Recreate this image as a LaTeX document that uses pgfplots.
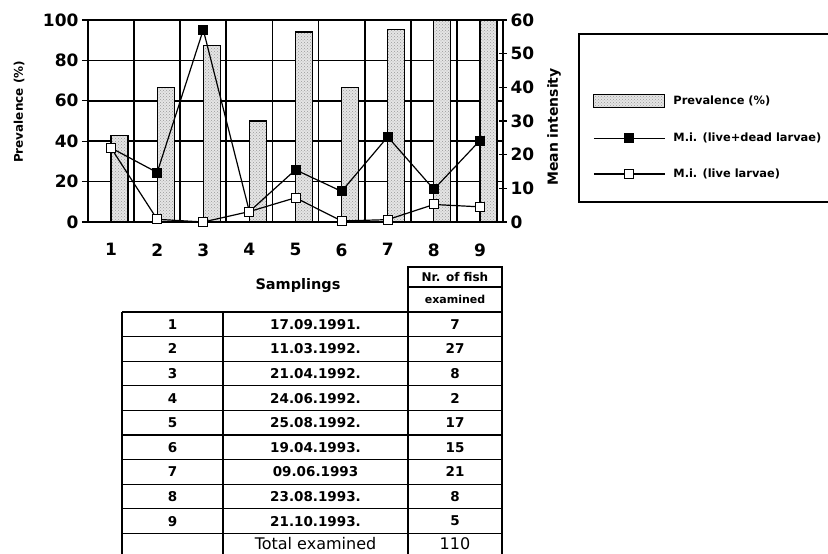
\documentclass[border=0pt]{standalone}
\usepackage{fontspec}
\setmainfont{DejaVu Sans}
\usepackage{pgfplots}
\usepackage{pgfplotstable}
\pgfplotsset{compat=1.18}
\usetikzlibrary{patterns}

% prevalence (%) and mean intensity per sampling
\pgfplotstableread{
x prev mitot milive
1 42.9 22.0 22.0
2 66.7 14.7 0.8
3 87.5 57.1 0.0
4 50.0 3.1 3.1
5 94.1 15.5 7.2
6 66.7 9.1 0.3
7 95.2 25.3 0.7
8 100 9.7 5.2
9 100 24.2 4.5
}\fishdata

\pgfplotsset{
  chartbase/.style={
    scale only axis, width=415pt, height=202pt,
    xmin=0.5, xmax=9.5, ymin=0,
    axis line style={line width=1.6pt},
    every tick/.style={line width=1.2pt, black},
    /pgf/number format/assume math mode=true,
    tick label style={font=\fontsize{17}{17}\selectfont\bfseries},
  },
  stipple/.style={fill=black!10, postaction={pattern=crosshatch dots, pattern color=black!40}},
  barlegend/.style={legend image code/.code={\draw[##1] (0pt,-6.5pt) rectangle (71pt,6.5pt);}},
  linelegend/.style={legend image code/.code={\draw[mark repeat=2,mark phase=2,##1] plot coordinates {(0pt,0pt) (35.5pt,0pt) (71pt,0pt)};}},
}

\begin{document}
\begin{tikzpicture}
\useasboundingbox (0,0) rectangle (828pt,554pt);

% prevalence bars, left axis
\begin{axis}[chartbase, at={(88pt,332pt)}, anchor=south west,
  ymax=100, ytick={0,20,...,100},
  xtick={1,...,9}, xtick pos=bottom, ytick pos=left,
  xtick style={draw=none},
  xticklabel style={yshift=-18pt},
  minor xtick={1.5,2.5,...,8.5}, xminorgrids,
  minor x grid style={line width=1.7pt, black},
  ymajorgrids, major y grid style={line width=1.7pt, black},
  ytick align=outside, major tick length=6pt,
  ylabel={Prevalence (\%)},
  ylabel style={font=\fontsize{12}{12}\selectfont\bfseries, at={(axis description cs:-0.166,0.545)}, anchor=center},
]
\addplot[ybar, bar width=17pt, bar shift=8.5pt, draw=black, line width=1.3pt, stipple]
  table[x=x, y=prev]{\fishdata};
\end{axis}

% mean intensity lines, right axis
\begin{axis}[chartbase, at={(88pt,332pt)}, anchor=south west,
  axis x line=none, axis y line*=right,
  ymax=60, ytick={0,10,...,60},
  ytick align=center, major tick length=8pt,
  ylabel={Mean intensity},
  ylabel style={font=\fontsize{14}{14}\selectfont\bfseries, at={(axis description cs:1.123,0.47)}, anchor=center},
  legend style={draw=none, fill=none, at={(rel axis cs:1.2169,0.636)}, anchor=north west,
    inner sep=0pt, row sep=25.5pt, font=\fontsize{11.4}{12}\selectfont\bfseries,
    nodes={inner sep=0pt, anchor=west},
    /tikz/every odd column/.append style={column sep=8pt}},
  legend cell align=left,
]
\addlegendimage{draw=black, line width=1pt, stipple, barlegend}
\addlegendentry{Prevalence (\%)}
\addplot[black, line width=1.2pt, mark=square*, mark size=4.5pt,
  mark options={fill=black, line width=0.8pt}, linelegend]
  table[x=x, y=mitot]{\fishdata};
\addlegendentry{M.i. (live+dead larvae)}
\addplot[black, line width=1.2pt, mark=square*, mark size=4.5pt,
  mark options={fill=white, line width=1pt}, linelegend]
  table[x=x, y=milive]{\fishdata};
\addlegendentry{M.i. (live larvae)}
\end{axis}

\begin{scope}[x=1pt, y=-1pt, shift={(0pt,554pt)}]
  % legend frame
  \draw[line width=1.3pt] (579,34) rectangle (845,202);

  % table of samplings
  \node[font=\fontsize{14.5}{15}\selectfont\bfseries] at (298,286) {Samplings};
  \draw[line width=1.3pt] (408,312) -- (408,267) -- (502,267) -- (502,312);
  \draw[line width=1.1pt] (408,287) -- (502,287);
  \node[font=\fontsize{12}{12}\selectfont\bfseries] at (455,277) {Nr. of fish};
  \node[font=\fontsize{11}{11}\selectfont\bfseries] at (455,299) {examined};

  \draw[line width=1.5pt] (122,312) -- (502,312);
  \draw[line width=1.3pt] (122,312) -- (122,560);
  \draw[line width=1.3pt] (502,312) -- (502,560);
  \draw[line width=1.1pt] (223,312) -- (223,560);
  \draw[line width=1.3pt] (408,312) -- (408,560);
  \foreach \k in {1,...,9}{
    \draw[line width=1.2pt] (122,{312+24.6*\k}) -- (502,{312+24.6*\k});
  }
  \foreach \n/\d/\f [count=\k from 0] in {
      1/17.09.1991./7, 2/11.03.1992./27, 3/21.04.1992./8,
      4/24.06.1992./2, 5/25.08.1992./17, 6/19.04.1993./15,
      7/09.06.1993/21, 8/23.08.1993./8, 9/21.10.1993./5}{
    \node[font=\fontsize{13.5}{14}\selectfont\bfseries] at (172.5,{324.3+24.6*\k}) {\n};
    \node[font=\fontsize{13.5}{14}\selectfont\bfseries] at (315.5,{324.3+24.6*\k}) {\d};
    \node[font=\fontsize{13.5}{14}\selectfont\bfseries] at (455,{324.3+24.6*\k}) {\f};
  }
  \node[font=\fontsize{16}{16}\selectfont, inner sep=1pt] at (315.5,544) {Total examined};
  \node[font=\fontsize{16}{16}\selectfont, inner sep=1pt] at (455,544) {110};
\end{scope}
\end{tikzpicture}
\end{document}
